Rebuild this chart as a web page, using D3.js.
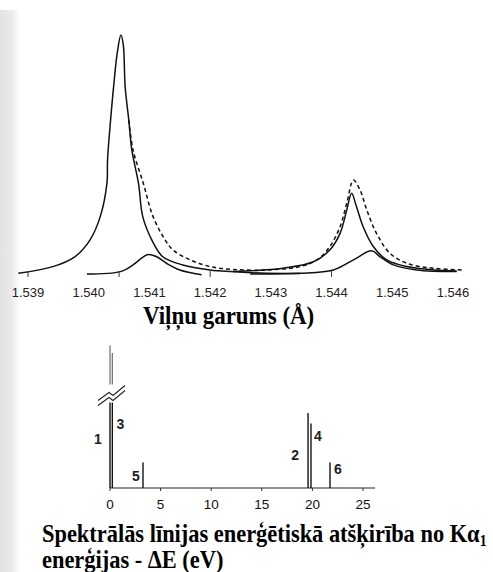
<!DOCTYPE html>
<html>
<head>
<meta charset="utf-8">
<script src="https://cdnjs.cloudflare.com/ajax/libs/d3/7.8.5/d3.min.js"></script>
<style>
  html, body { margin: 0; padding: 0; background: #fff; }
  svg { display: block; }
</style>
</head>
<body>
<div id="chart"></div>
<script>
// --- Augšējais grafiks: Cu Kα spektrs (viļņa garums Å, intensitāte %)
const wavelengthTicks = [1.539, 1.540, 1.541, 1.542, 1.543, 1.544, 1.545, 1.546];
const baseTicks = [1.539, 1.5405, 1.542, 1.544];

// Kα1 galvenā līnija
const alpha11 = [
  [1.53884, 0.3], [1.53941, 3.1], [1.53977, 7.2], [1.54002, 14.2], [1.54019, 24.0],
  [1.54030, 37.9], [1.54031, 47.7], [1.54036, 64.4], [1.54041, 78.4], [1.54047, 92.5],
  [1.54053, 100], [1.54057, 95.8], [1.54060, 78.4], [1.54066, 64.4], [1.54071, 51.9],
  [1.54082, 37.9], [1.54089, 24.0], [1.54104, 14.2], [1.54122, 7.2], [1.54155, 3.8],
  [1.54200, 1.7], [1.54233, 1.0], [1.54282, 0.4], [1.54348, 0.2]
];
// Kα1 satelīts
const alpha12 = [
  [1.53997, 0.0], [1.54052, 1.0], [1.54073, 3.8], [1.54090, 7.2], [1.54098, 8.2],
  [1.54112, 7.2], [1.54128, 4.5], [1.54150, 1.7], [1.54186, -0.3]
];
// Kα2 līnija
const alpha21 = [
  [1.54238, 1.0], [1.54320, 2.4], [1.54370, 5.1], [1.54397, 10.0], [1.54414, 17.0],
  [1.54425, 26.8], [1.54433, 33.8], [1.54441, 28.2], [1.54452, 19.8], [1.54469, 11.4],
  [1.54491, 5.9], [1.54524, 3.1], [1.54568, 1.7], [1.54606, 1.3]
];
// Kα2 satelīts
const alpha22 = [
  [1.54266, 0.0], [1.54348, 0.3], [1.54403, 1.7], [1.54436, 5.9], [1.54466, 9.7],
  [1.54480, 7.2], [1.54502, 3.8], [1.54540, 1.7], [1.54606, 1.0]
];
// summārā līkne (raustīta)
const totalCurve = [
  [1.54066, 64.4], [1.54073, 51.9], [1.54090, 37.9], [1.54106, 24.0], [1.54126, 14.2],
  [1.54139, 10.0], [1.54167, 5.9], [1.54200, 3.1], [1.54238, 1.9], [1.54294, 1.7],
  [1.54348, 3.1], [1.54376, 5.9], [1.54397, 11.4], [1.54414, 19.8], [1.54425, 29.6],
  [1.54436, 39.3], [1.54447, 35.1], [1.54458, 26.8], [1.54474, 17.0], [1.54496, 8.7],
  [1.54524, 4.5], [1.54568, 2.4], [1.54617, 1.7]
];

// --- Apakšējais grafiks: līniju enerģijas starpība ΔE (eV)
const energyTicks = [0, 5, 10, 15, 20, 25];
const lineIds = ["1", "3", "5", "2", "4", "6"];
const lineDeltaE = [0, 0.23, 3.26, 19.57, 19.86, 21.74];
const lineIntensity = [95, 90, 17, 50, 43, 17];

const W = 493, H = 572;
const svg = d3.select("#chart").append("svg")
  .attr("width", W)
  .attr("height", H);

// skenējuma josla kreisajā malā
const grad = svg.append("defs").append("linearGradient")
  .attr("id", "scan").attr("x1", 0).attr("x2", 1);
grad.append("stop").attr("offset", "0%").attr("stop-color", "#e2e2e2");
grad.append("stop").attr("offset", "60%").attr("stop-color", "#ebebeb");
grad.append("stop").attr("offset", "100%").attr("stop-color", "#fff");
svg.append("rect").attr("x", 0).attr("y", 10).attr("width", 20).attr("height", H - 10)
  .attr("fill", "url(#scan)");

// ---------- augšējais ----------
const x = d3.scaleLinear().domain([1.539, 1.546]).range([28, 453]);
const y = d3.scaleLinear().domain([0, 100]).range([274, 35]);

const line = d3.line()
  .x(d => x(d[0]))
  .y(d => y(d[1]))
  .curve(d3.curveCatmullRom.alpha(0.5));

const topG = svg.append("g");

[alpha11, alpha12, alpha21, alpha22].forEach(s => {
  topG.append("path")
    .datum(s)
    .attr("fill", "none")
    .attr("stroke", "#111")
    .attr("stroke-width", 1.5)
    .attr("d", line);
});

topG.append("path")
  .datum(totalCurve)
  .attr("fill", "none")
  .attr("stroke", "#111")
  .attr("stroke-width", 1.5)
  .attr("stroke-dasharray", "4,3")
  .attr("d", line);

topG.selectAll(".btick")
  .data(baseTicks)
  .enter().append("line")
  .attr("x1", d => x(d)).attr("x2", d => x(d))
  .attr("y1", y(0) - 3).attr("y2", y(0) + 3)
  .attr("stroke", "#333").attr("stroke-width", 1);

topG.selectAll(".wlabel")
  .data(wavelengthTicks)
  .enter().append("text")
  .attr("x", d => x(d))
  .attr("y", 296.5)
  .attr("text-anchor", "middle")
  .style("font-family", "Arial, 'Liberation Sans', sans-serif")
  .style("font-size", "13px")
  .style("fill", "#222")
  .text(d => d3.format(".3f")(d));

// virsraksti ir šaurāki (skenējums saspiests horizontāli)
const serif = "'Times New Roman', 'Liberation Serif', serif";

svg.append("text")
  .attr("transform", "translate(143,324) scale(0.9,1)")
  .style("font-family", serif)
  .style("font-weight", "bold")
  .style("font-size", "25.5px")
  .style("fill", "#000")
  .text("Viļņu garums (Å)");

// ---------- apakšējais ----------
const ex = d3.scaleLinear().domain([0, 25]).range([110, 363]);
const ey = d3.scaleLinear().domain([0, 100]).range([488, 338]);
const breakLow = 57, breakHigh = 69;

const bottomG = svg.append("g");

bottomG.append("line")
  .attr("x1", ex(0)).attr("x2", ex(26.2))
  .attr("y1", ey(0)).attr("y2", ey(0))
  .attr("stroke", "#222").attr("stroke-width", 1.2);

bottomG.selectAll(".etick")
  .data(energyTicks)
  .enter().append("line")
  .attr("x1", d => ex(d)).attr("x2", d => ex(d))
  .attr("y1", ey(0)).attr("y2", ey(0) + 3)
  .attr("stroke", "#333").attr("stroke-width", 1);

const lines = lineIds.map((id, i) => ({ id, e: lineDeltaE[i], v: lineIntensity[i] }));

// apakšējie līniju segmenti
bottomG.selectAll(".lo")
  .data(lines)
  .enter().append("line")
  .attr("x1", d => ex(d.e)).attr("x2", d => ex(d.e))
  .attr("y1", ey(0))
  .attr("y2", d => ey(Math.min(d.v, breakLow)))
  .attr("stroke", "#111")
  .attr("stroke-width", 1.4);

// augšējie segmenti virs pārrāvuma
bottomG.selectAll(".hi")
  .data(lines.filter(d => d.v > breakHigh))
  .enter().append("line")
  .attr("x1", d => ex(d.e)).attr("x2", d => ex(d.e))
  .attr("y1", ey(breakHigh))
  .attr("y2", d => ey(d.v))
  .attr("stroke", "#777")
  .attr("stroke-width", 1.3);

// pārrāvuma zīme
const bx = ex(0.1), by = ey((breakLow + breakHigh) / 2);
[0, 5].forEach(o => {
  bottomG.append("path")
    .attr("d", `M${bx - 13},${by + 7 + o} L${bx - 2},${by - 1 + o} L${bx + 2},${by + 2 + o} L${bx + 14},${by - 8 + o}`)
    .attr("fill", "none")
    .attr("stroke", "#222")
    .attr("stroke-width", 1.1);
});

// līniju numuri
const labelPos = {
  "1": { dx: -12, v: 33 },
  "3": { dx: 8, v: 43 },
  "5": { dx: -7, v: 8 },
  "2": { dx: -13, v: 22 },
  "4": { dx: 7, v: 35 },
  "6": { dx: 8, v: 13 }
};
bottomG.selectAll(".lab")
  .data(lines)
  .enter().append("text")
  .attr("x", d => ex(d.e) + labelPos[d.id].dx)
  .attr("y", d => ey(labelPos[d.id].v) + 5)
  .attr("text-anchor", "middle")
  .style("font-family", "Arial, 'Liberation Sans', sans-serif")
  .style("font-size", "14px")
  .style("font-weight", "bold")
  .style("fill", "#222")
  .text(d => d.id);

bottomG.selectAll(".elabel")
  .data(energyTicks)
  .enter().append("text")
  .attr("x", d => ex(d))
  .attr("y", 509)
  .attr("text-anchor", "middle")
  .style("font-family", "Arial, 'Liberation Sans', sans-serif")
  .style("font-size", "13.5px")
  .style("fill", "#111")
  .text(d => d);

const t2 = svg.append("text")
  .attr("transform", "translate(42,541.5) scale(0.862,1)")
  .style("font-family", serif)
  .style("font-weight", "bold")
  .style("font-size", "26px")
  .style("fill", "#000");
t2.append("tspan").text("Spektrālās līnijas enerģētiskā atšķirība no Kα");
t2.append("tspan").attr("dy", 4).style("font-size", "16px").text("1");

svg.append("text")
  .attr("transform", "translate(42,568) scale(0.862,1)")
  .style("font-family", serif)
  .style("font-weight", "bold")
  .style("font-size", "26px")
  .style("fill", "#000")
  .text("enerģijas - ΔE (eV)");
</script>
</body>
</html>
